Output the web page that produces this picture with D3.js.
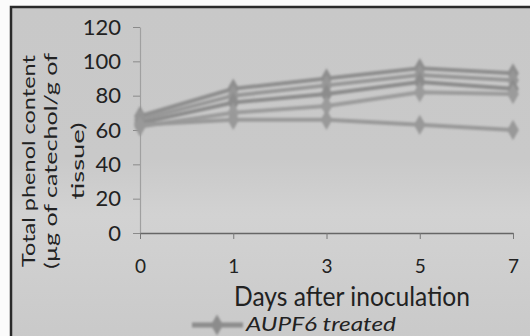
<!DOCTYPE html>
<html>
<head>
<meta charset="utf-8">
<script src="https://cdn.jsdelivr.net/npm/d3@7/dist/d3.min.js"></script>
<style>
  body { margin: 0; background: #fbfbfb; }
  svg text { font-family: Lato, "Open Sans", sans-serif; fill: #222; }
</style>
</head>
<body>
<div id="fig"></div>
<script>
// days after inoculation (x categories)
var days = ["0", "1", "3", "5", "7"]
var yTicks = [0, 20, 40, 60, 80, 100, 120]

// total phenol content per series
var series1 = [68, 84, 90, 96, 93]
var series2 = [66, 80, 86, 92, 89]
var series3 = [64, 76, 81, 88, 84]
var series4 = [62, 70, 74, 82, 81]
var aupf6 = [63, 66, 66, 63, 60]
var allSeries = [series1, series2, series3, series4, aupf6]
var seriesColors = ["#8e8e8e", "#979797", "#8c8c8c", "#9b9b9b", "#999999"]

var W = 530, H = 336

var svg = d3.select("#fig").append("svg")
    .attr("width", W)
    .attr("height", H)

var defs = svg.append("defs")
defs.append("filter").attr("id", "soft")
    .attr("filterUnits", "userSpaceOnUse")
    .attr("x", 0).attr("y", 0).attr("width", W).attr("height", H)
  .append("feGaussianBlur").attr("stdDeviation", 1.3)

var grad = defs.append("linearGradient").attr("id", "bg")
    .attr("x1", 0).attr("x2", 0).attr("y1", 0).attr("y2", 1)
grad.append("stop").attr("offset", "0%").attr("stop-color", "#c8c8c8")
grad.append("stop").attr("offset", "45%").attr("stop-color", "#c9c9c9")
grad.append("stop").attr("offset", "62%").attr("stop-color", "#d2d2d2")
grad.append("stop").attr("offset", "72%").attr("stop-color", "#d0d0d0")
grad.append("stop").attr("offset", "100%").attr("stop-color", "#c9c9c9")

// scanned grey background with dark frame
svg.append("rect")
    .attr("x", 11).attr("y", 7)
    .attr("width", W).attr("height", H)
    .attr("fill", "url(#bg)")
    .attr("stroke", "#2a2a2a")
    .attr("stroke-width", 2.5)

var x = d3.scalePoint()
    .domain(days)
    .range([140, 513])

var y = d3.scaleLinear()
    .domain([0, 120])
    .range([233, 27])

// y axis
var yAxis = svg.append("g")
    .attr("transform", "translate(140,0)")
    .call(d3.axisLeft(y).tickValues(yTicks).tickSize(7).tickPadding(12).tickSizeOuter(0))
yAxis.select(".domain").attr("stroke", "#a0a0a0").attr("stroke-width", 1.2)
yAxis.selectAll(".tick line").attr("stroke", "#8a8a8a")
yAxis.selectAll(".tick text")
    .style("font-size", "22px")
    .attr("fill", "#2e2e2e")

// x axis
var xAxis = svg.append("g")
    .attr("transform", "translate(0,233)")
    .call(d3.axisBottom(x).tickSize(6).tickPadding(21).tickSizeOuter(0))
xAxis.select(".domain").attr("stroke", "#666").attr("stroke-width", 1.5)
xAxis.selectAll(".tick line").attr("stroke", "#777")
xAxis.selectAll(".tick text")
    .style("font-size", "19px")
    .attr("fill", "#2e2e2e")

// lines
var line = d3.line()
    .x(function(d, i) { return x(days[i]) })
    .y(function(d) { return y(d) })

var g = svg.append("g").attr("filter", "url(#soft)")
allSeries.forEach(function(s, k) {
  var col = seriesColors[k]
  g.append("path")
    .datum(s)
    .attr("d", line)
    .attr("fill", "none")
    .attr("stroke", col)
    .attr("stroke-width", 4)
  g.selectAll(null)
    .data(s)
    .enter().append("path")
      .attr("d", d3.symbol().type(d3.symbolDiamond).size(120))
      .attr("transform", function(d, i) { return "translate(" + x(days[i]) + "," + y(d) + ")" })
      .attr("fill", col)
})

// x axis title
svg.append("text")
    .attr("x", 234)
    .attr("y", 306)
    .attr("textLength", 236)
    .attr("lengthAdjust", "spacingAndGlyphs")
    .style("font-size", "27px")
    .attr("fill", "#111")
    .text("Days after inoculation")

// y axis title (three lines, rotated)
var yTitle = ["Total phenol content", "(\u00b5g of catechol/g of", "tissue)"]
var yTitleX = [35, 57, 84]
var yTitleLen = [212, 216, 77]
yTitle.forEach(function(t, i) {
  svg.append("text")
    .attr("transform", "translate(" + yTitleX[i] + ",161) rotate(-90)")
    .attr("text-anchor", "middle")
    .attr("textLength", yTitleLen[i])
    .attr("lengthAdjust", "spacingAndGlyphs")
    .style("font-size", "18px")
    .text(t)
})

// legend (only first entry visible in the crop)
var lg = svg.append("g").attr("filter", "url(#soft)")
lg.append("line")
    .attr("x1", 192).attr("x2", 243)
    .attr("y1", 325).attr("y2", 325)
    .attr("stroke", "#8c8c8c")
    .attr("stroke-width", 5)
lg.append("path")
    .attr("d", d3.symbol().type(d3.symbolDiamond).size(130))
    .attr("transform", "translate(217,325)")
    .attr("fill", "#8c8c8c")
svg.append("text")
    .attr("x", 246)
    .attr("y", 331)
    .attr("textLength", 150)
    .attr("lengthAdjust", "spacingAndGlyphs")
    .style("font-size", "20px")
    .style("font-style", "italic")
    .text("AUPF6 treated")
</script>
</body>
</html>
